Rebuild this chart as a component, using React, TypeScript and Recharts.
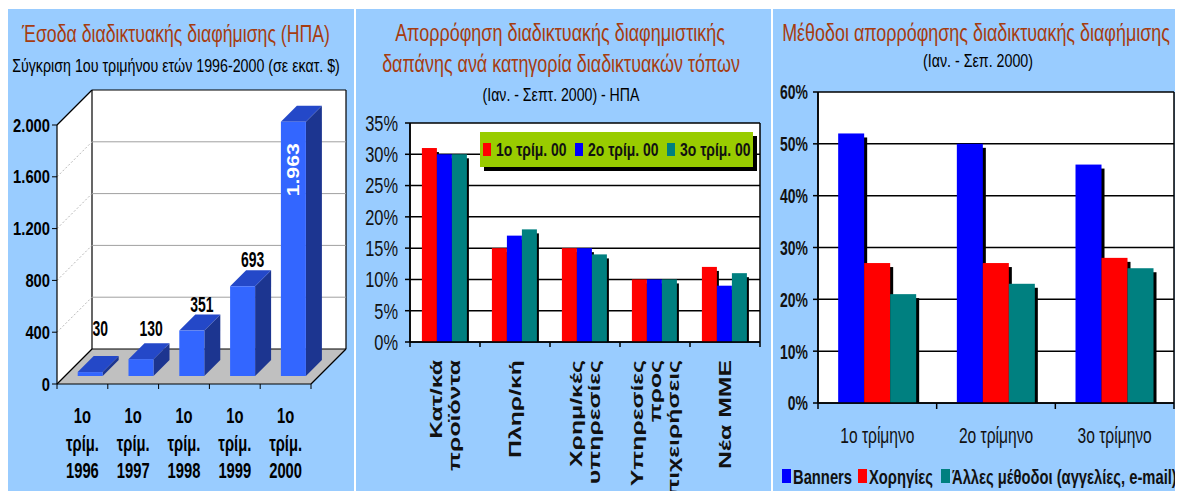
import React from 'react';
import { BarChart, Bar, XAxis, YAxis, CartesianGrid, LabelList, Legend } from 'recharts';

const FONT = '"Liberation Sans", Arial, sans-serif';
const PANEL_BG = '#99CCFF';
const TITLE_COLOR = '#A63C10';
const PANEL_H = 482;
const RED = '#FF0000';
const BLUE = '#0000FF';
const TEAL = '#008080';

// chart 1: revenue, 1st quarter 1996-2000 (million $)
const revenueYears = ['1996', '1997', '1998', '1999', '2000'];
const revenueValues = [30, 130, 351, 693, 1963];
const revenueTicks = [0, 400, 800, 1200, 1600, 2000];

// chart 2: spend by site category
const siteCategories = ['Κατ/κά\nπροϊόντα', 'Πληρ/κή', 'Χρημ/κές\nυπηρεσίες', 'Υπηρεσίες\nπρος\nεπιχειρήσεις', 'Νέα ΜΜΕ'];
const siteQuarterNames = ['1ο τρίμ. 00', '2ο τρίμ. 00', '3ο τρίμ. 00'];
const siteQ1 = [31, 15, 15, 10, 12];
const siteQ2 = [30, 17, 15, 10, 9];
const siteQ3 = [30, 18, 14, 10, 11];
const siteTicks = [0, 5, 10, 15, 20, 25, 30, 35];

// chart 3: methods
const methodQuarters = ['1ο τρίμηνο', '2ο τρίμηνο', '3ο τρίμηνο'];
const methodNames = ['Banners', 'Χορηγίες', 'Άλλες μέθοδοι (αγγελίες, e-mail)'];
const banners = [52, 50, 46];
const sponsorships = [27, 27, 28];
const otherMethods = [21, 23, 26];
const methodTicks = [0, 10, 20, 30, 40, 50, 60];

const revenueData = revenueYears.map((year, i) => ({ year, value: revenueValues[i] }));
const siteData = siteCategories.map((cat, i) => ({ cat, q1: siteQ1[i], q2: siteQ2[i], q3: siteQ3[i] }));
const methodData = methodQuarters.map((q, i) => ({
  q,
  banners: banners[i],
  sponsor: sponsorships[i],
  other: otherMethods[i],
}));

// plot boxes (panel-local pixels)
const P1 = { w: 346, left: 49, right: 303, top: 116, bottom: 375, depth: 35 };
const P2 = { w: 415, left: 54, right: 404, top: 114, bottom: 333 };
const P3 = { w: 410, left: 45, right: 401, top: 83, bottom: 394 };

const greekThousands = (v: number) => String(v).replace(/\B(?=(\d{3})+(?!\d))/g, '.');

let measureCtx: CanvasRenderingContext2D | null = null;
function textWidth(text: string, size: number) {
  if (!measureCtx) measureCtx = document.createElement('canvas').getContext('2d');
  if (!measureCtx) return text.length * size * 0.5;
  measureCtx.font = `${size}px "Liberation Sans"`;
  return measureCtx.measureText(text).width;
}

// narrow-looking text: Liberation Sans squeezed to Arial Narrow proportions
function SText({ x, y, sx = 0.82, sy = 1.15, children, ...rest }: any) {
  return (
    <text transform={`translate(${x},${y}) scale(${sx},${sy})`} fontFamily={FONT} {...rest}>
      {children}
    </text>
  );
}

// title squeezed to the width it has in the picture
function Title({ x, y, w, size, color = '#000', children }: any) {
  const sx = w / textWidth(String(children), size);
  return (
    <SText x={x} y={y} sx={sx} sy={1} textAnchor="middle" fontSize={size} fill={color}>
      {children}
    </SText>
  );
}

function Panel({ left, width, back, children }: any) {
  return (
    <div
      style={{
        position: 'absolute',
        left,
        top: 1,
        width,
        height: PANEL_H,
        background: PANEL_BG,
        overflow: 'hidden',
      }}
    >
      <svg width={width} height={PANEL_H} style={{ position: 'absolute', left: 0, top: 0 }}>
        {back}
      </svg>
      <div style={{ position: 'absolute', left: 0, top: 0 }}>{children}</div>
    </div>
  );
}

/* ---------- chart 1 pieces ---------- */

function Walls() {
  const { left: L, right: R, top: T, bottom: B, depth: D } = P1;
  return (
    <g>
      <polygon points={`${L},${T} ${L + D},${T - D} ${L + D},${B - D} ${L},${B}`} fill="#fff" />
      <rect x={L + D} y={T - D} width={R - L} height={B - T} fill="#fff" />
      <polygon points={`${L},${B} ${R},${B} ${R + D},${B - D} ${L + D},${B - D}`} fill="#C0C0C0" />
      <g stroke="#000" strokeWidth={1.2} fill="none">
        <line x1={L} y1={T} x2={L + D} y2={T - D} />
        <line x1={L + D} y1={T - D} x2={R + D} y2={T - D} />
        <line x1={R + D} y1={T - D} x2={R + D} y2={B - D} />
        <line x1={L + D} y1={T - D} x2={L + D} y2={B - D} />
        <line x1={L + D} y1={B - D} x2={R + D} y2={B - D} />
        <line x1={R} y1={B} x2={R + D} y2={B - D} />
        <line x1={L} y1={B} x2={L + D} y2={B - D} />
      </g>
    </g>
  );
}

const wallGridLine = (props: any) => {
  const { x1, x2, y1 } = props;
  const D = P1.depth;
  if (Math.abs(y1 - P1.top) < 1 || Math.abs(y1 - P1.bottom) < 1) return <g />;
  return (
    <g>
      <line x1={x1} y1={y1} x2={x1 + D} y2={y1 - D} stroke="#B8B8B8" strokeDasharray="2 2" />
      <line x1={x1 + D} y1={y1 - D} x2={x2 + D} y2={y1 - D} stroke="#A0A0A0" />
    </g>
  );
};

const Bar3D = (props: any) => {
  const { x, y, width, height } = props;
  if (width == null || height == null) return <g />;
  const fx = x + 8;
  const fy = y - 8;
  const d = 16;
  return (
    <g>
      <polygon
        points={`${fx + width},${fy} ${fx + width + d},${fy - d} ${fx + width + d},${fy - d + height} ${fx + width},${fy + height}`}
        fill="#1C3590"
      />
      <polygon points={`${fx},${fy} ${fx + width},${fy} ${fx + width + d},${fy - d} ${fx + d},${fy - d}`} fill="#2448C8" />
      <rect x={fx} y={fy} width={width} height={height} fill="#3366FF" />
    </g>
  );
};

const RevenueLabel = (props: any) => {
  const { x, y, width, height, value } = props;
  const base = y + height;
  if (y - 8 - 16 - 20 < P1.top) {
    const cx = x + 8 + width / 2;
    const cy = y - 8 + 48;
    return (
      <text
        transform={`translate(${cx},${cy}) rotate(-90) scale(1.25,1)`}
        textAnchor="middle"
        dominantBaseline="central"
        fill="#fff"
        fontWeight="bold"
        fontFamily={FONT}
        fontSize={17}
      >
        {greekThousands(value)}
      </text>
    );
  }
  const ly = Math.min(y - 27, base - 48);
  return (
    <SText x={x + width / 2 + 18} y={ly} sy={1.25} textAnchor="middle" fontWeight="bold" fontSize={17}>
      {greekThousands(value)}
    </SText>
  );
};

const RevenueYTick = ({ x, y, payload }: any) => (
  <g>
    <line x1={x - 5} x2={x} y1={y} y2={y} stroke="#000" />
    <SText x={x - 7} y={y + 6.5} sy={1} textAnchor="end" fontWeight="bold" fontSize={18}>
      {greekThousands(payload.value)}
    </SText>
  </g>
);

const RevenueXTick = ({ x, y, payload, index }: any) => {
  const band = (P1.right - P1.left) / revenueYears.length;
  const lines = ['1ο', 'τρίμ.', payload.value];
  return (
    <g>
      <line x1={x - band / 2} x2={x - band / 2} y1={y} y2={y + 5} stroke="#000" />
      {index === revenueYears.length - 1 && <line x1={x + band / 2} x2={x + band / 2} y1={y} y2={y + 5} stroke="#000" />}
      {lines.map((l, i) => (
        <SText key={i} x={x} y={y + 39 + i * 27.5} sy={1.25} textAnchor="middle" fontWeight="bold" fontSize={18}>
          {l}
        </SText>
      ))}
    </g>
  );
};

/* ---------- shared 2D pieces ---------- */

const shadowBar = (dx: number, dy: number) => (props: any) => {
  const { x, y, width, height, fill } = props;
  if (!height || height <= 0) return <g />;
  return (
    <g>
      <rect x={x + dx} y={y + dy} width={width} height={Math.max(0, height - dy)} fill="#000" />
      <rect x={x} y={y} width={width} height={height} fill={fill} />
    </g>
  );
};

const pctYTick = (fontSize: number, bold: boolean, gap: number, sy: number) => ({ x, y, payload }: any) => (
  <g>
    <line x1={x - 5} x2={x} y1={y} y2={y} stroke="#000" strokeWidth={1.5} />
    <SText
      x={x - gap}
      y={y + 0.36 * fontSize * sy}
      sy={sy}
      textAnchor="end"
      fontWeight={bold ? 'bold' : 'normal'}
      fontSize={fontSize}
      fill="#111"
    >
      {payload.value}%
    </SText>
  </g>
);

const SiteXTick = ({ x, y, payload, index }: any) => {
  const band = (P2.right - P2.left) / siteCategories.length;
  const lines = String(payload.value).split('\n');
  return (
    <g>
      <line x1={x - band / 2} x2={x - band / 2} y1={y} y2={y + 5} stroke="#000" strokeWidth={1.5} />
      {index === siteCategories.length - 1 && (
        <line x1={x + band / 2} x2={x + band / 2} y1={y} y2={y + 5} stroke="#000" strokeWidth={1.5} />
      )}
      {lines.map((l, i) => {
        const cx = x + (i - (lines.length - 1) / 2) * 18;
        return (
          <text
            key={i}
            transform={`translate(${cx + 6},${y + 18}) rotate(-90) scale(1.55,1)`}
            textAnchor="end"
            fontWeight="bold"
            fontFamily={FONT}
            fontSize={16}
            fill="#111"
          >
            {l}
          </text>
        );
      })}
    </g>
  );
};

const MethodXTick = ({ x, y, payload, index }: any) => {
  const band = (P3.right - P3.left) / methodQuarters.length;
  return (
    <g>
      <line x1={x - band / 2} x2={x - band / 2} y1={y} y2={y + 6} stroke="#000" strokeWidth={1.5} />
      {index === methodQuarters.length - 1 && (
        <line x1={x + band / 2} x2={x + band / 2} y1={y} y2={y + 6} stroke="#000" strokeWidth={1.5} />
      )}
      <SText x={x} y={y + 40} sy={1.15} textAnchor="middle" fontSize={19} fill="#111">
        {payload.value}
      </SText>
    </g>
  );
};

const inOrder = (payload: any[], names: string[]) =>
  [...(payload || [])].sort((a, b) => names.indexOf(a.value) - names.indexOf(b.value));

const SiteLegend = ({ payload }: any) => (
  <svg width={280} height={40} style={{ display: 'block' }}>
    <rect x={4} y={4} width={273} height={35} fill="#000" />
    <rect x={0} y={0} width={273} height={35} fill="#99CC00" />
    {inOrder(payload, siteQuarterNames).map((p: any, i: number) => (
      <g key={p.value}>
        <rect x={3 + i * 92} y={11} width={8} height={13} fill={p.color} />
        <SText x={16 + i * 92} y={24} sy={1.1} fontWeight="bold" fontSize={17} fill="#111">
          {p.value}
        </SText>
      </g>
    ))}
  </svg>
);

const methodLegendX = [0, 76, 159];
const MethodLegend = ({ payload }: any) => (
  <svg width={410} height={24} style={{ display: 'block' }}>
    {inOrder(payload, methodNames).map((p: any, i: number) => (
      <g key={p.value}>
        <rect x={methodLegendX[i]} y={4} width={9} height={14} fill={p.color} />
        <SText x={methodLegendX[i] + 11} y={19} sy={1.1} fontWeight="bold" fontSize={18} fill="#111">
          {p.value}
        </SText>
      </g>
    ))}
  </svg>
);

export default function App() {
  return (
    <div style={{ position: 'relative', width: 1175, height: 483, background: '#fff', fontFamily: FONT }}>
      <Panel
        left={0}
        width={P1.w}
        back={
          <g>
            <Title x={168} y={33} w={308} size={24} color={TITLE_COLOR}>
              Έσοδα διαδικτυακής διαφήμισης (ΗΠΑ)
            </Title>
            <Title x={168} y={63} w={328} size={19}>
              Σύγκριση 1ου τριμήνου ετών 1996-2000 (σε εκατ. $)
            </Title>
            <Walls />
          </g>
        }
      >
        <BarChart
          width={P1.w}
          height={PANEL_H}
          data={revenueData}
          margin={{ top: P1.top, right: P1.w - P1.right, bottom: 0, left: 0 }}
          barCategoryGap="25%"
        >
          <CartesianGrid vertical={false} horizontal={wallGridLine} />
          <XAxis
            dataKey="year"
            height={PANEL_H - P1.bottom}
            interval={0}
            tickSize={0}
            tickMargin={0}
            tickLine={false}
            axisLine={{ stroke: '#000', strokeWidth: 1.2 }}
            tick={RevenueXTick}
          />
          <YAxis
            width={P1.left}
            domain={[0, 2000]}
            ticks={revenueTicks}
            interval={0}
            tickSize={0}
            tickMargin={0}
            tickLine={false}
            axisLine={{ stroke: '#000', strokeWidth: 1.2 }}
            tick={RevenueYTick}
          />
          <Bar dataKey="value" shape={Bar3D} isAnimationActive={false}>
            <LabelList dataKey="value" content={RevenueLabel} />
          </Bar>
        </BarChart>
      </Panel>

      <Panel
        left={348}
        width={P2.w}
        back={
          <g>
            <Title x={204} y={32} w={330} size={24} color={TITLE_COLOR}>
              Απορρόφηση διαδικτυακής διαφημιστικής
            </Title>
            <Title x={205} y={63} w={358} size={24} color={TITLE_COLOR}>
              δαπάνης ανά κατηγορία διαδικτυακών τόπων
            </Title>
            <Title x={205} y={92} w={157} size={18}>
              (Ιαν. - Σεπτ. 2000) - ΗΠΑ
            </Title>
          </g>
        }
      >
        <BarChart
          width={P2.w}
          height={PANEL_H}
          data={siteData}
          margin={{ top: P2.top, right: P2.w - P2.right, bottom: 0, left: 0 }}
          barCategoryGap="17%"
          barGap={0}
        >
          <CartesianGrid
            fill="#fff"
            fillOpacity={1}
            stroke="#000"
            strokeWidth={1.5}
            verticalPoints={[P2.left, P2.right]}
          />
          <XAxis
            dataKey="cat"
            height={PANEL_H - P2.bottom}
            interval={0}
            tickSize={0}
            tickMargin={0}
            tickLine={false}
            axisLine={{ stroke: '#000', strokeWidth: 1.5 }}
            tick={SiteXTick}
          />
          <YAxis
            width={P2.left}
            domain={[0, 35]}
            ticks={siteTicks}
            interval={0}
            tickSize={0}
            tickMargin={0}
            tickLine={false}
            axisLine={{ stroke: '#000', strokeWidth: 1.5 }}
            tick={pctYTick(20, false, 12, 1.1)}
          />
          <Legend
            layout="horizontal"
            verticalAlign="middle"
            align="center"
            wrapperStyle={{ left: 124, top: 123, width: 280, height: 40 }}
            content={SiteLegend}
          />
          <Bar dataKey="q1" name={siteQuarterNames[0]} fill={RED} shape={shadowBar(2, 4)} isAnimationActive={false} />
          <Bar dataKey="q2" name={siteQuarterNames[1]} fill={BLUE} shape={shadowBar(2, 4)} isAnimationActive={false} />
          <Bar dataKey="q3" name={siteQuarterNames[2]} fill={TEAL} shape={shadowBar(2, 4)} isAnimationActive={false} />
        </BarChart>
      </Panel>

      <Panel
        left={765}
        width={P3.w}
        back={
          <g>
            <Title x={203} y={32} w={388} size={24} color={TITLE_COLOR}>
              Μέθοδοι απορρόφησης διαδικτυακής διαφήμισης
            </Title>
            <Title x={205} y={58} w={110} size={18}>
              (Ιαν. - Σεπ. 2000)
            </Title>
          </g>
        }
      >
        <BarChart
          width={P3.w}
          height={PANEL_H}
          data={methodData}
          margin={{ top: P3.top, right: P3.w - P3.right, bottom: 0, left: 0 }}
          barCategoryGap="17%"
          barGap={0}
        >
          <CartesianGrid
            fill="#fff"
            fillOpacity={1}
            stroke="#000"
            strokeWidth={1.5}
            verticalPoints={[P3.left, P3.right]}
          />
          <XAxis
            dataKey="q"
            height={PANEL_H - P3.bottom}
            interval={0}
            tickSize={0}
            tickMargin={0}
            tickLine={false}
            axisLine={{ stroke: '#000', strokeWidth: 1.5 }}
            tick={MethodXTick}
          />
          <YAxis
            width={P3.left}
            domain={[0, 60]}
            ticks={methodTicks}
            interval={0}
            tickSize={0}
            tickMargin={0}
            tickLine={false}
            axisLine={{ stroke: '#000', strokeWidth: 1.5 }}
            tick={pctYTick(17, true, 10, 1.2)}
          />
          <Legend
            layout="horizontal"
            verticalAlign="middle"
            align="center"
            wrapperStyle={{ left: 9, top: 456, width: 410, height: 24 }}
            content={MethodLegend}
          />
          <Bar dataKey="banners" name={methodNames[0]} fill={BLUE} shape={shadowBar(3, 4)} isAnimationActive={false} />
          <Bar dataKey="sponsor" name={methodNames[1]} fill={RED} shape={shadowBar(3, 4)} isAnimationActive={false} />
          <Bar dataKey="other" name={methodNames[2]} fill={TEAL} shape={shadowBar(3, 4)} isAnimationActive={false} />
        </BarChart>
      </Panel>
    </div>
  );
}
